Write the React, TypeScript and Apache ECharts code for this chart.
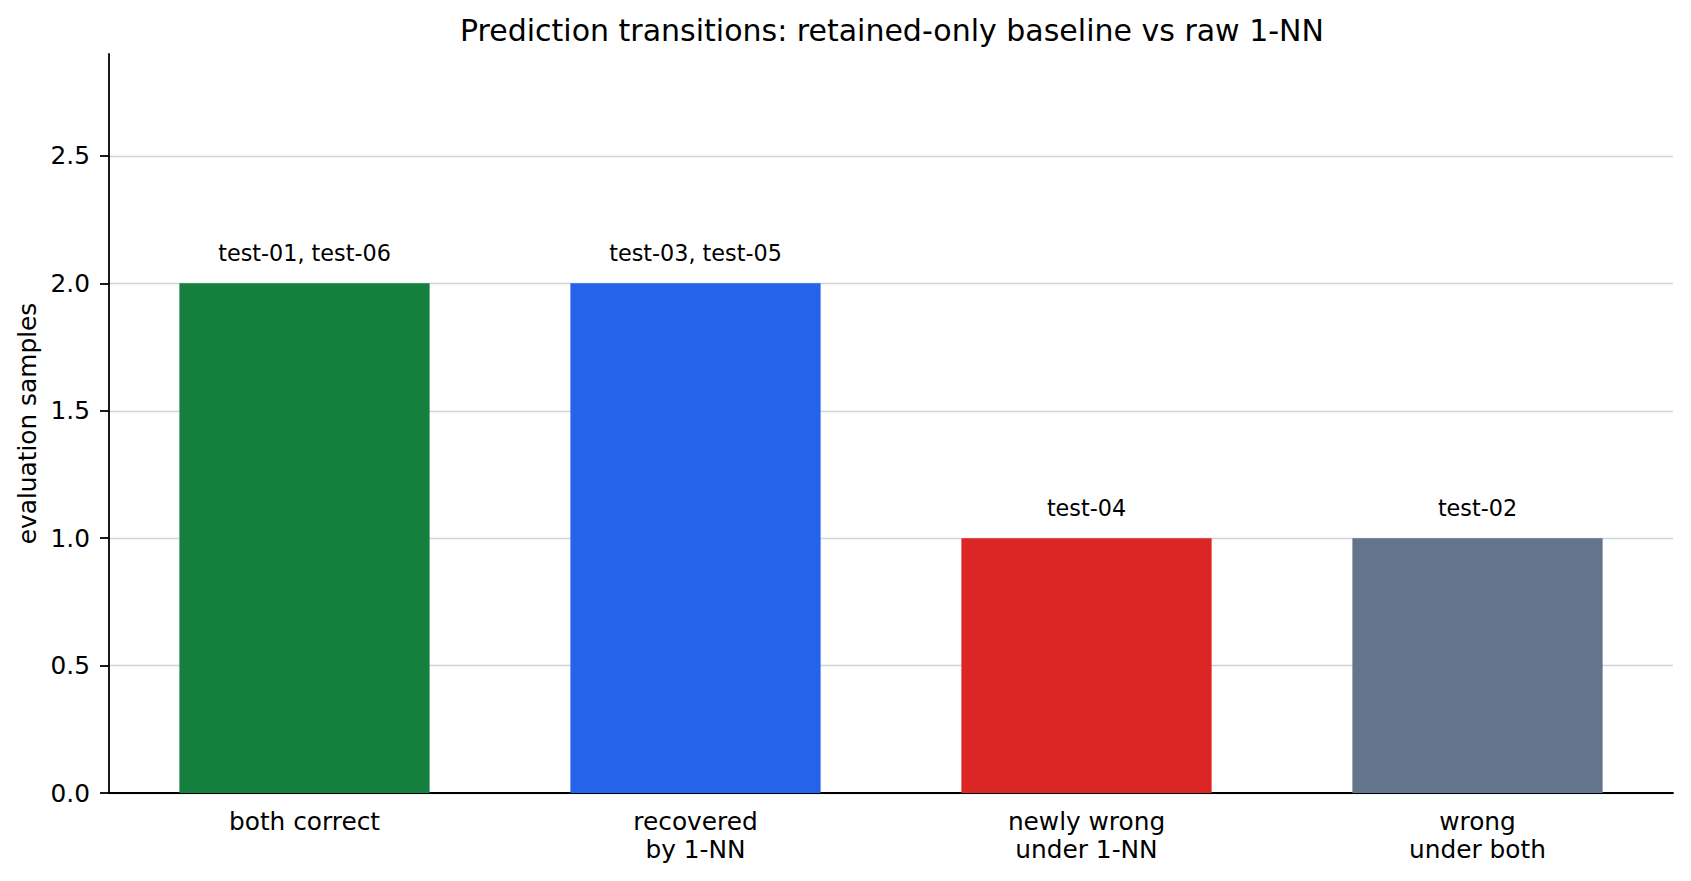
import {useEffect, useRef} from 'react';
import * as echarts from 'echarts';

const categories = ['both correct', 'recovered\nby 1-NN', 'newly wrong\nunder 1-NN', 'wrong\nunder both'];
const counts = [2, 2, 1, 1];
const sampleIds = ['test-01, test-06', 'test-03, test-05', 'test-04', 'test-02'];
const barColors = ['#15803d', '#2563eb', '#dc2626', '#64748b'];
const yTicks = [0, 0.5, 1, 1.5, 2, 2.5];

const FONT = 'DejaVu Sans';

const App = () => {
    const chartRef = useRef<HTMLDivElement>(null);

    useEffect(() => {
        document.body.style.margin = '0';
        const myChart = echarts.init(chartRef.current!, null, {renderer: 'svg'});

        myChart.setOption({
            animation: false,
            textStyle: {fontFamily: FONT},
            title: {
                text: 'Prediction transitions: retained-only baseline vs raw 1-NN',
                left: 887,
                textAlign: 'center',
                top: 10,
                textStyle: {fontFamily: FONT, fontSize: 30, fontWeight: 'normal', color: '#000'},
            },
            grid: {left: 109, right: 18, top: 54, bottom: 88},
            xAxis: {
                type: 'category',
                data: categories,
                axisLine: {lineStyle: {color: '#000', width: 1.8}},
                axisTick: {alignWithLabel: true, length: 9, lineStyle: {color: '#000', width: 1.8}},
                axisLabel: {
                    color: '#000',
                    fontFamily: FONT,
                    fontSize: 24.8,
                    lineHeight: 28,
                    margin: 14,
                    interval: 0,
                },
            },
            yAxis: {
                type: 'value',
                min: 0,
                max: 2.9,
                interval: 0.5,
                name: 'evaluation samples',
                nameLocation: 'middle',
                nameGap: 68,
                nameTextStyle: {fontFamily: FONT, fontSize: 24.8, color: '#000'},
                axisLine: {show: true, lineStyle: {color: '#000', width: 1.8}},
                axisTick: {show: true, length: 9, customValues: yTicks, lineStyle: {color: '#000', width: 1.8}},
                axisLabel: {
                    customValues: yTicks,
                    color: '#000',
                    fontFamily: FONT,
                    fontSize: 24.8,
                    margin: 19,
                    formatter: (v: number) => v.toFixed(1),
                },
                splitLine: {show: true, lineStyle: {color: '#cfd3d9', width: 1.4}},
            },
            series: [
                {
                    type: 'bar',
                    barWidth: '64%',
                    data: counts.map((c, i) => ({value: c, itemStyle: {color: barColors[i]}})),
                    label: {
                        show: true,
                        position: 'top',
                        distance: 19,
                        color: '#000',
                        fontFamily: FONT,
                        fontSize: 22.3,
                        formatter: (p: any) => sampleIds[p.dataIndex],
                    },
                },
            ],
        });

        return () => {
            myChart.dispose();
        };
    }, []);

    return <div ref={chartRef} style={{width: '1691px', height: '881px'}} />;
};

export default App;
